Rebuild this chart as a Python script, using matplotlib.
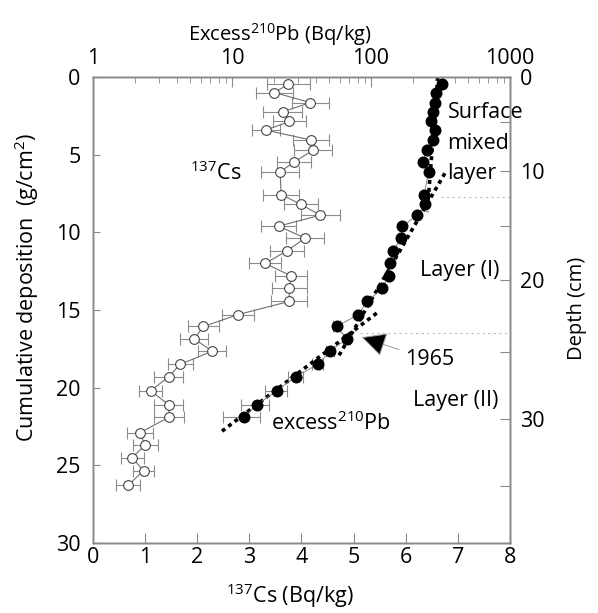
import matplotlib
matplotlib.use("Agg")
import matplotlib.pyplot as plt

plt.rcParams["font.family"] = ["Open Sans", "DejaVu Sans"]
plt.rcParams["mathtext.default"] = "regular"

# cumulative deposition (g/cm2) of each slice
deposition = [0.45, 1.0, 1.65, 2.24, 2.86, 3.42, 4.06, 4.71, 5.48, 6.1,
              7.57, 8.2, 8.9, 9.6, 10.37, 11.2, 12.0, 12.8, 13.6, 14.45,
              15.3, 16.06, 16.86, 17.65, 18.5, 19.3, 20.2, 21.1, 21.9, 22.9,
              23.7, 24.5, 25.35, 26.26]

# 137Cs (Bq/kg)
cs = [3.75, 3.48, 4.17, 3.64, 3.77, 3.32, 4.18, 4.22, 3.86, 3.59,
      3.61, 3.99, 4.36, 3.56, 4.07, 3.72, 3.30, 3.80, 3.77, 3.76,
      2.78, 2.12, 1.94, 2.29, 1.67, 1.45, 1.11, 1.45, 1.46, 0.90,
      1.00, 0.75, 0.97, 0.68]
cs_err = [0.42, 0.36, 0.36, 0.37, 0.31, 0.26, 0.35, 0.36, 0.33, 0.37,
          0.35, 0.32, 0.37, 0.33, 0.36, 0.32, 0.30, 0.31, 0.34, 0.34,
          0.31, 0.29, 0.27, 0.27, 0.24, 0.27, 0.22, 0.27, 0.28, 0.25,
          0.24, 0.22, 0.20, 0.23]

# excess 210Pb (Bq/kg), first 29 slices
pb = [323, 294, 289, 281, 269, 289, 278, 251, 235, 260,
      241, 245, 215, 168, 164, 145, 137, 134, 121, 94,
      81, 56.6, 66.9, 50.7, 41.4, 28.7, 21.0, 15.1, 12.2]
pb_err = [4.0, 4.0, 4.0, 4.0, 4.0, 4.0, 4.0, 4.0, 4.0, 4.0,
          4.0, 4.0, 3.8, 3.8, 3.8, 3.8, 3.7, 3.7, 3.7, 3.6,
          3.6, 3.6, 3.6, 3.6, 3.6, 3.5, 3.7, 3.5, 3.6]

# exponential fits: (deposition start, end), (Pb start, end)
fit_surface = ([0.0, 8.7], [302, 254])
fit_layer1 = ([6.2, 18.0], [340, 58.2])
fit_layer2 = ([15.2, 22.9], [110, 8.2])

layer_bounds = [7.75, 16.45]

# depth (cm) scale on the right, placed at cumulative deposition
depth_cm = [0, 5, 10, 15, 20, 25, 30, 35]
depth_at = [0, 2.9, 6.06, 9.6, 13.1, 17.7, 22.0, 26.3]

spine_c = "#8a8a8a"
fs = 15.5     # tick labels and notes
fs_lab = 14.5

fig = plt.figure(figsize=(5.98, 6.13), dpi=100)
ax = fig.add_axes([0.1555, 0.1142, 0.6973, 0.7602])
ax_top = ax.twiny()
ax_r = ax.twinx()

# 137Cs
ax.errorbar(cs, deposition, xerr=cs_err, fmt="none", ecolor="#8c8c8c",
            elinewidth=0.8, capsize=4, capthick=0.8, zorder=1)
ax.plot(cs, deposition, color="#707070", lw=0.8, marker="o", ms=7,
        mfc="white", mec="#444444", mew=0.8, zorder=2)
ax.set_xlim(0, 8)
ax.set_ylim(30, 0)
ax.set_xticks(range(0, 9))
ax.set_yticks(range(0, 31, 5))

# excess 210Pb
ax_top.set_xscale("log")
ax_top.errorbar(pb, deposition[:len(pb)], xerr=pb_err, fmt="none",
                ecolor="#8c8c8c", elinewidth=0.8, capsize=4, capthick=0.8,
                zorder=1)
ax_top.plot(pb, deposition[:len(pb)], color="#777777", lw=0.6, marker="o",
            ms=7.6, mfc="black", mec="black", zorder=3)
for dep, val in (fit_surface, fit_layer1, fit_layer2):
    ax_top.plot(val, dep, color="black", lw=2.6, ls=(0, (1.1, 1.1)), zorder=2)
for b, x0 in zip(layer_bounds, [0.835, 0.64]):
    ax_top.axhline(b, xmin=x0, xmax=1, color="#bbbbbb", lw=0.8, ls=(0, (2, 3)))
ax_top.set_xlim(1, 1000)
ax_top.set_xticks([1, 10, 100, 1000], labels=["1", "10", "100", "1000"])
ax_top.set_ylim(30, 0)

# depth axis
ax_r.set_ylim(30, 0)
ax_r.set_yticks(depth_at, labels=[str(d) if d % 10 == 0 else "" for d in depth_cm])

# text
ax.text(2.36, 6.2, "$^{137}$Cs", fontsize=fs, ha="center", va="center")
for word, y in zip(["Surface", "mixed", "layer"], [2.3, 4.25, 6.2]):
    ax_top.text(355, y, word, fontsize=fs, ha="left", va="center")
ax_top.text(433, 12.45, "Layer (I)", fontsize=fs, ha="center", va="center")
ax_top.text(409, 20.84, "Layer (II)", fontsize=fs, ha="center", va="center")
ax_top.text(51.5, 22.3, "excess$^{210}$Pb", fontsize=fs, ha="center", va="center")
ax_top.annotate("1965", xy=(85.7, 16.75), xytext=(262, 18.2), fontsize=fs,
                ha="center", va="center",
                arrowprops=dict(arrowstyle="-|>,head_length=1.0,head_width=0.5",
                                fc="black", ec="#999999", lw=0.7,
                                shrinkA=2, shrinkB=0))

ax.set_xlabel("$^{137}$Cs (Bq/kg)", fontsize=fs)
ax.set_ylabel("Cumulative deposition  (g/cm$^{2}$)", fontsize=fs)
ax_top.set_xlabel("Excess$^{210}$Pb (Bq/kg)", fontsize=fs_lab)
ax_r.set_ylabel("Depth (cm)", fontsize=fs_lab)
ax.xaxis.set_label_coords(0.472, -0.083)
ax.yaxis.set_label_coords(-0.125, 0.549)
ax_top.xaxis.set_label_coords(0.448, 1.078)
ax_r.yaxis.set_label_coords(1.137, 0.504)

for a in (ax, ax_top, ax_r):
    for s in a.spines.values():
        s.set_color(spine_c)
        s.set_linewidth(1.0)
ax.tick_params(axis="x", direction="in", length=7, color=spine_c,
               labelsize=fs, pad=3)
ax.tick_params(axis="y", direction="in", length=5, color=spine_c,
               labelsize=fs, pad=9)
ax_top.tick_params(axis="x", which="major", direction="in", length=7,
                   color=spine_c, labelsize=fs, pad=6)
ax_top.tick_params(axis="x", which="minor", direction="in", length=4,
                   color=spine_c)
ax_r.tick_params(axis="y", direction="in", length=7, color=spine_c,
                 labelsize=fs, pad=7)

fig.savefig("out.png", dpi=100)
